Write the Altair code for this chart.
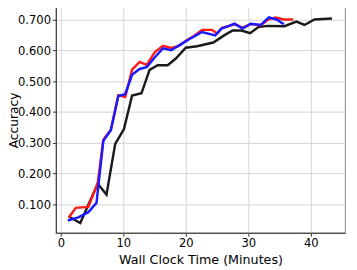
import altair as alt
import pandas as pd

red_x = [1.25, 2.4, 4.4, 5.9, 6.8, 8.0, 9.2, 10.3, 11.4, 12.6, 13.75, 15.05, 16.35, 17.65, 18.8, 20.3, 21.3, 22.6, 24.2, 25.0, 25.8, 27.0, 27.8, 29.1, 30.4, 32.0, 33.3, 34.4, 35.7, 37.2]
red_y = [0.058, 0.089, 0.092, 0.170, 0.310, 0.343, 0.455, 0.449, 0.538, 0.563, 0.553, 0.595, 0.615, 0.608, 0.614, 0.636, 0.647, 0.667, 0.667, 0.655, 0.674, 0.680, 0.685, 0.674, 0.686, 0.682, 0.702, 0.707, 0.701, 0.701]

blue_x = [1.1, 2.8, 4.4, 5.7, 6.8, 8.0, 9.2, 10.3, 11.4, 12.6, 13.75, 15.05, 16.35, 17.65, 19.2, 21.0, 22.6, 24.7, 25.7, 27.0, 27.8, 29.1, 30.4, 32.0, 33.3, 34.6, 35.7]
blue_y = [0.048, 0.058, 0.075, 0.105, 0.307, 0.341, 0.452, 0.458, 0.521, 0.540, 0.546, 0.578, 0.607, 0.601, 0.620, 0.642, 0.660, 0.649, 0.671, 0.681, 0.687, 0.671, 0.687, 0.683, 0.708, 0.700, 0.685]

black_x = [1.25, 3.1, 5.9, 7.3, 8.7, 10.1, 11.4, 12.9, 14.2, 15.5, 17.1, 18.4, 20.0, 21.8, 24.4, 26.2, 27.5, 28.9, 30.3, 31.6, 33.0, 35.8, 37.7, 39.0, 40.6, 43.4]
black_y = [0.061, 0.040, 0.167, 0.132, 0.297, 0.345, 0.454, 0.461, 0.537, 0.552, 0.552, 0.574, 0.609, 0.614, 0.626, 0.650, 0.665, 0.665, 0.656, 0.676, 0.680, 0.679, 0.694, 0.683, 0.701, 0.704]

x_ticks = [0, 10, 20, 30, 40]
y_ticks = [0.1, 0.2, 0.3, 0.4, 0.5, 0.6, 0.7]

FONT = "DejaVu Sans"

xscale = alt.Scale(domain=[-0.8, 45.5], nice=False, zero=False)
yscale = alt.Scale(domain=[0.008, 0.741], nice=False, zero=False)

xaxis = alt.Axis(values=x_ticks, title="Wall Clock Time (Minutes)", format="d",
                 grid=True, gridColor="#d3d3d3", gridWidth=1,
                 domainColor="#333333", tickColor="#333333", tickSize=3.5,
                 labelPadding=2, labelFontSize=11.8, labelColor="#000000",
                 titleFontSize=13, titleFontWeight="normal", titleColor="#000000",
                 titlePadding=4, labelFont=FONT, titleFont=FONT)
yaxis = alt.Axis(values=y_ticks, title="Accuracy", format=".3f",
                 grid=True, gridColor="#d3d3d3", gridWidth=1,
                 domainColor="#333333", tickColor="#333333", tickSize=3.5,
                 labelPadding=2, labelFontSize=11.8, labelColor="#000000",
                 titleFontSize=12.5, titleFontWeight="normal", titleColor="#000000",
                 titleX=-36, titleBaseline="bottom", labelFont=FONT, titleFont=FONT)


def series(xs, ys, color):
    df = pd.DataFrame({"x": xs, "y": ys})
    return alt.Chart(df).mark_line(color=color, strokeWidth=2.5, clip=True).encode(
        x=alt.X("x:Q", scale=xscale, axis=xaxis),
        y=alt.Y("y:Q", scale=yscale, axis=yaxis),
    )


chart = alt.layer(
    series(black_x, black_y, "#1a1a1a"),
    series(red_x, red_y, "#ff1a1a"),
    series(blue_x, blue_y, "#1a1aff"),
).properties(
    width=296, height=231,
    autosize=alt.AutoSizeParams(type="none"),
    padding={"left": 49, "top": -4, "right": 4, "bottom": 35},
).configure_view(stroke="#999999", strokeWidth=1.2)

chart.save("out.html", embed_options={"renderer": "svg", "actions": False})
